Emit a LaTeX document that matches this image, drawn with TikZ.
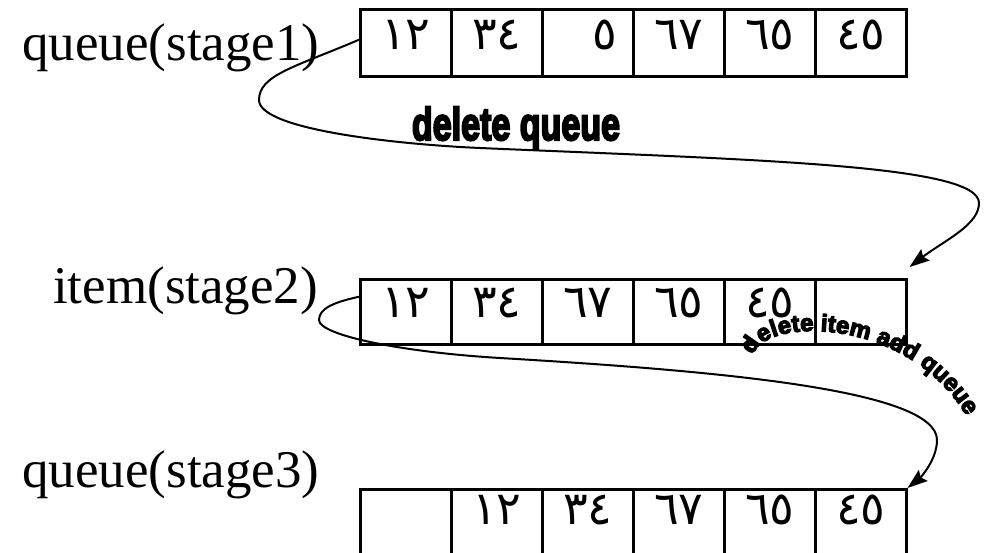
\documentclass[tikz,border=0pt]{standalone}
\usepackage{fontspec}
\setmainfont{Liberation Serif}
\newfontfamily\arabicfont[Script=Arabic]{DejaVu Sans}
\newfontfamily\heavyfont{Liberation Sans}[UprightFont={* Bold}, FakeBold=5]
\usetikzlibrary{arrows.meta,decorations.text}
\tikzset{
  cell/.style={draw, line width=2.5pt, minimum width=91pt, minimum height=67pt,
    inner sep=0pt, anchor=north west, font=\arabicfont\fontsize{46}{46}\selectfont,
    text height=27pt, text depth=14pt},
  lbl/.style={anchor=base west, inner sep=0pt, font=\fontsize{53}{53}\selectfont},
  conn/.style={line width=2pt, -{Stealth[length=20pt,width=14pt,inset=3pt]}},
}
\begin{document}
\begin{tikzpicture}[x=1pt, y=-1pt]
\useasboundingbox (0,0) rectangle (986,552);
\clip (0,0) rectangle (986,552);
% labels
\node[lbl] (l1) at (22,60) {queue(stage1)};
\node[lbl] (l2) at (53,303) {item(stage2)};
\node[lbl] (l3) at (22,487) {queue(stage3)};
% row 1
\foreach \t [count=\i] in {١٢,٣٤,{\hspace*{34pt}٥},٦٧,٦٥,٤٥}
  \node[cell] (q1c\i) at ({359+91*(\i-1)},8) {\t};
% row 2
\foreach \t [count=\i] in {١٢,٣٤,٦٧,٦٥,٤٥,{}}
  \node[cell, minimum height=65pt, text depth=15pt] (q2c\i) at ({359+91*(\i-1)},278) {\t};
% row 3
\foreach \t [count=\i] in {{},١٢,٣٤,٦٧,٦٥,٤٥}
  \node[cell, text depth=23pt] (q3c\i) at ({359+91*(\i-1)},488) {\t};
% connectors
\draw[conn] ([yshift=3pt]q1c1.west) .. controls (295,67) and (259,75) .. (259,100)
  .. controls (259,130) and (400,144.5) .. (480,148)
  .. controls (760,160) and (979,165) .. (979,203)
  .. controls (979,225) and (945,240) .. ([shift={(2,-11)}]q2c6.north east);
\draw[conn] ([yshift=15pt]q2c1.west) .. controls (335,302) and (319,308) .. (319,320)
  .. controls (319,335) and (400,352) .. (500,358)
  .. controls (720,371) and (937,390) .. (937,440)
  .. controls (937,460) and (920,478) .. (q3c6.north east);
% connector labels
\node[anchor=base, inner sep=0pt, font=\heavyfont\fontsize{46}{46}\selectfont] (t1) at (516,140) {\scalebox{0.74}[1]{delete queue}};
\path[decorate, decoration={text along path, text align=center,
  text={|\heavyfont\fontsize{24}{24}\selectfont|delete item add queue}}]
  (755,351) .. controls (772,318) and (905,318) .. (964,412);
\end{tikzpicture}
\end{document}
